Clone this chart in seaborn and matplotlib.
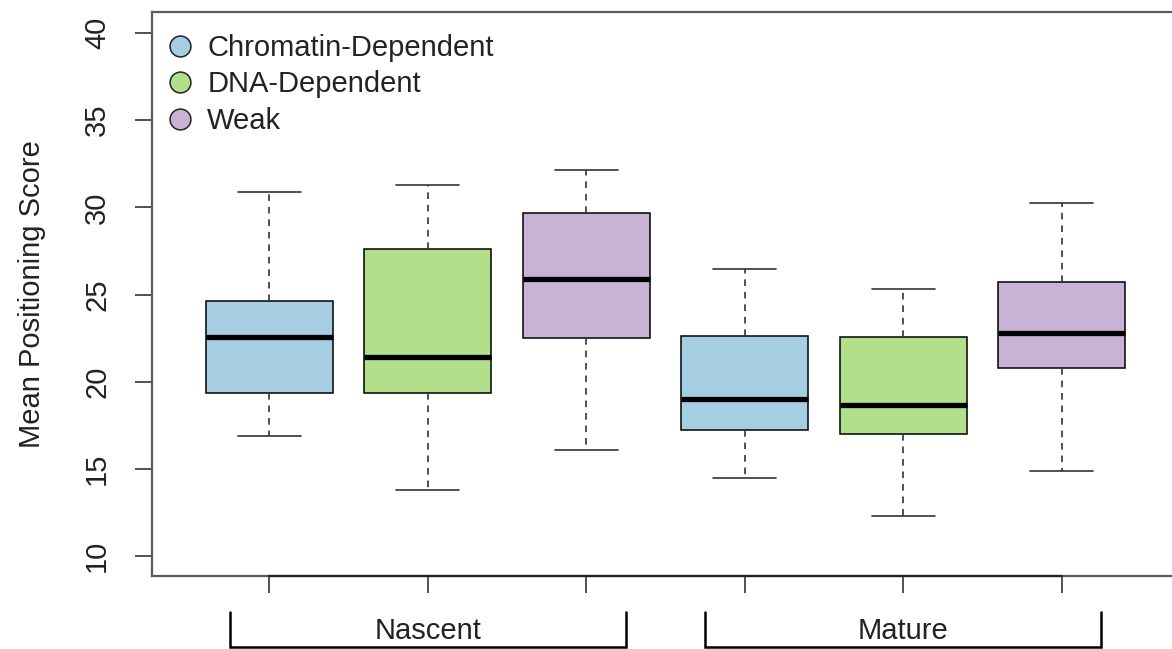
import numpy as np
import pandas as pd
import matplotlib
matplotlib.use("Agg")
import matplotlib.pyplot as plt
import matplotlib.transforms as mtrans
from matplotlib.lines import Line2D
import seaborn as sns

# ---- data (five-number summaries) ----
stages = ["Nascent", "Mature"]
classes = ["Chromatin-Dependent", "DNA-Dependent", "Weak"]
box_stage = ["Nascent", "Nascent", "Nascent", "Mature", "Mature", "Mature"]
box_class = ["Chromatin-Dependent", "DNA-Dependent", "Weak",
             "Chromatin-Dependent", "DNA-Dependent", "Weak"]
box_ids = ["N-CD", "N-DD", "N-W", "M-CD", "M-DD", "M-W"]
whisker_low = [16.9, 13.8, 16.1, 14.5, 12.3, 14.9]
q1 = [19.35, 19.35, 22.5, 17.2, 17.0, 20.8]
median = [22.55, 21.4, 25.9, 19.0, 18.65, 22.8]
q3 = [24.6, 27.6, 29.7, 22.6, 22.55, 25.7]
whisker_high = [30.9, 31.3, 32.15, 26.45, 25.3, 30.25]
colors = ["#A6CEE3", "#B2DF8A", "#CAB2D6"]
y_ticks = [10, 15, 20, 25, 30, 35, 40]

rows = []
for i, bid in enumerate(box_ids):
    for v in (whisker_low[i], q1[i], median[i], q3[i], whisker_high[i]):
        rows.append({"box": bid, "stage": box_stage[i], "cls": box_class[i], "score": v})
df = pd.DataFrame(rows)

sns.set_theme(style="white")
plt.rcParams["font.family"] = ["Liberation Sans", "DejaVu Sans"]
FS = 21

fig = plt.figure(figsize=(11.72, 6.49), dpi=100)
ax = fig.add_axes([152 / 1172, 1 - 576 / 649, (1179 - 152) / 1172, (576 - 12) / 649])

sns.boxplot(data=df, x="box", y="score", hue="cls", order=box_ids, hue_order=classes,
            palette=colors, saturation=1, dodge=False, width=0.8, whis=(0, 100),
            showfliers=False, linecolor="black", linewidth=1.1, legend=False, ax=ax,
            whiskerprops=dict(linestyle=(0, (4, 3.5)), color="#333333", linewidth=1.2),
            capprops=dict(color="#333333", linewidth=1.2),
            medianprops=dict(color="black", linewidth=3.8),
            boxprops=dict(edgecolor="black", linewidth=1.1))

ax.set_xlim(-0.74, 5.74)
ax.set_ylim(8.85, 41.21)
ax.set_yticks(y_ticks)
ax.set_yticklabels([str(t) for t in y_ticks], fontsize=FS, color="#222222")
ax.tick_params(axis="y", labelrotation=90, length=12.5, width=1.1, pad=17,
               colors="#222222", left=True)
ax.set_xticks(range(len(box_ids)))
ax.set_xticklabels([])
ax.tick_params(axis="x", length=12.5, width=1.1, colors="#222222", bottom=True)
for lab in ax.get_yticklabels():
    lab.set_verticalalignment("center")
ax.set_xlabel("")
ax.set_ylabel("Mean Positioning Score", fontsize=FS, color="#222222")
ax.yaxis.set_label_coords((46 - 152) / (1179 - 152), 0.5)

for s in ax.spines.values():
    s.set_color("#5a5a5a")
    s.set_linewidth(1.6)

# R-style bottom axis line spanning the box positions
ax.plot([0, len(box_ids) - 1], [0, 0], color="#222222", lw=1.6,
        transform=mtrans.blended_transform_factory(ax.transData, ax.transAxes),
        clip_on=False, zorder=5)

# group brackets under the axis
tr = mtrans.blended_transform_factory(ax.transData, fig.transFigure)
y_bot = 1 - 647 / 649
y_top = 1 - 612 / 649
y_txt = 1 - 631 / 649
for g, stg in enumerate(stages):
    idx = [i for i, s in enumerate(box_stage) if s == stg]
    x0, x1 = min(idx) - 0.25, max(idx) + 0.25
    ax.plot([x0, x0, x1, x1], [y_top, y_bot, y_bot, y_top], color="black", lw=1.8,
            transform=tr, clip_on=False, solid_joinstyle="miter")
    ax.text((x0 + x1) / 2, y_txt, stg, transform=tr, ha="center", va="center",
            fontsize=FS, color="#222222")

handles = [Line2D([], [], marker="o", linestyle="none", markersize=15,
                  markerfacecolor=c, markeredgecolor="#222222", markeredgewidth=1.1)
           for c in colors]
ax.legend(handles, classes, loc="upper left", bbox_to_anchor=(165 / 1172, 1 - 34 / 649),
          bbox_transform=fig.transFigure, frameon=False, fontsize=FS,
          handlelength=1.0, handletextpad=0.45, labelspacing=0.29, borderpad=0,
          borderaxespad=0, labelcolor="#222222")

fig.savefig("out.png", dpi=100)
